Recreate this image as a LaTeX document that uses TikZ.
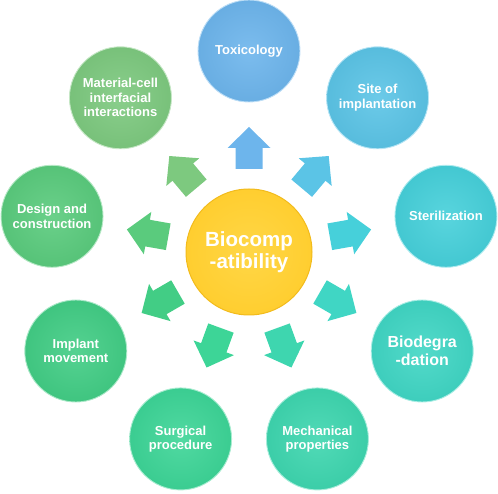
\documentclass[tikz,border=0pt]{standalone}
\usepackage{fontspec}
\setmainfont{Liberation Sans}
\definecolor{ctox}{HTML}{6DB5EC}
\definecolor{csite}{HTML}{5BC4E6}
\definecolor{cster}{HTML}{46D0DA}
\definecolor{cbio}{HTML}{40D6C4}
\definecolor{cmech}{HTML}{3ED6AF}
\definecolor{csurg}{HTML}{3DD597}
\definecolor{cimpl}{HTML}{42CD85}
\definecolor{cdes}{HTML}{5ACB7D}
\definecolor{cmat}{HTML}{7DC97F}
\definecolor{cyel}{HTML}{FFD232}
\definecolor{cyelrim}{HTML}{F2BB1C}
\begin{document}
\begin{tikzpicture}[x=1pt,y=1pt,
  bub/.style={circle, minimum size=102pt, inner sep=0pt, text=white,
    align=center, shading=radial, inner color=#1!90!white, outer color=#1!96!black,
    draw=#1!45!white, line width=0.9pt},
  txt/.style={font=\bfseries\fontsize{13}{14.5}\selectfont},
  bigtxt/.style={font=\bfseries\fontsize{16}{18}\selectfont},
  blockarrow/.style={fill=#1},
]
\useasboundingbox (0,0) rectangle (498,493);
\coordinate (c) at (249,242);

\foreach \ang/\col/\nm/\sty/\txt in {
  90/ctox/tox/txt/{Toxicology},
  50/csite/site/txt/{Site of\\implantation},
  10/cster/ster/txt/{Sterilization},
  -30/cbio/biod/bigtxt/{Biodegra\\-dation},
  -70/cmech/mech/txt/{Mechanical\\properties},
  -110/csurg/surg/txt/{Surgical\\procedure},
  -150/cimpl/impl/txt/{Implant\\movement},
  170/cdes/des/txt/{Design and\\construction},
  130/cmat/mat/txt/{Material-cell\\interfacial\\interactions}}
{
  \node[bub=\col, \sty] (\nm) at ([shift={(\ang:200)}]c) {\txt};
  \begin{scope}[shift={(c)}, rotate=\ang]
    \fill[blockarrow=\col] (82,-13.5) -- (103,-13.5) -- (103,-21.5) -- (124,0)
      -- (103,21.5) -- (103,13.5) -- (82,13.5) -- cycle;
  \end{scope}
}

\node[circle, minimum size=126pt, inner sep=0pt, shading=radial,
  inner color=cyel!90!white, outer color=cyel!95!orange, draw=cyelrim, line width=1pt,
  text=white, align=center, font=\bfseries\fontsize{20.5}{21.5}\selectfont]
  (bio) at ([yshift=-1pt]c) {Biocomp\\-atibility};
\end{tikzpicture}
\end{document}
